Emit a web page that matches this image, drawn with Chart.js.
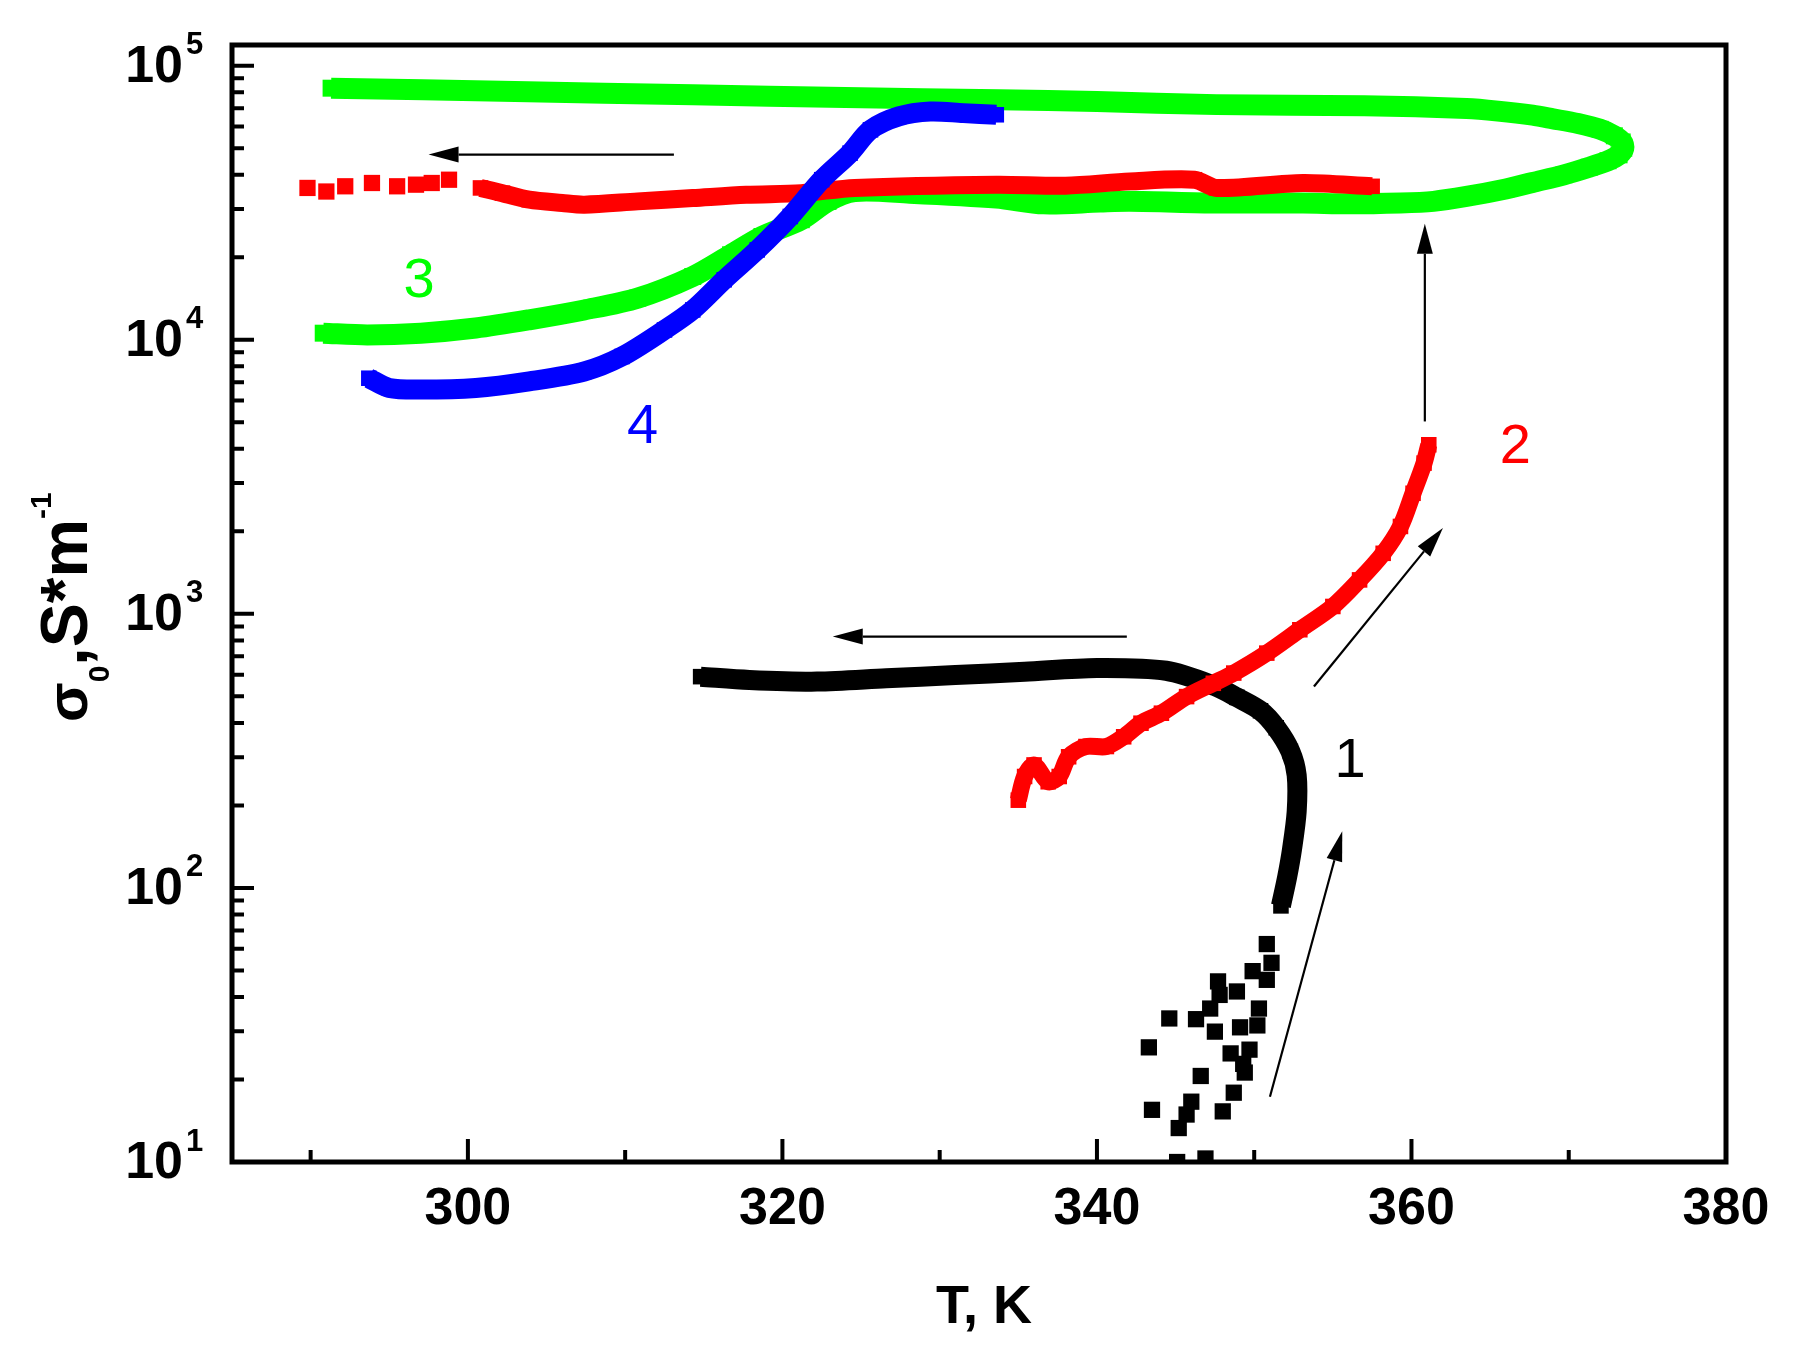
<!DOCTYPE html>
<html>
<head>
<meta charset="utf-8">
<title>sigma0 vs T</title>
<script src="https://cdn.jsdelivr.net/npm/chart.js@4.4.1/dist/chart.umd.min.js"></script>
<style>
  html, body { margin: 0; padding: 0; background: #fff; }
  canvas { display: block; }
</style>
</head>
<body>
<canvas id="chart" width="1798" height="1358"></canvas>
<script>
// axis ticks
const tempMajorTicks = [300, 320, 340, 360, 380];
const tempMinorTicks = [290, 310, 330, 350, 370];
const sigmaDecades = [1, 2, 3, 4, 5];

// curve 1 (black): scattered start, then continuous curve
const s1ScatterT = [350.8, 351.1, 349.9, 350.8, 347.7, 348.9, 347.8, 347.2, 350.3, 344.6, 346.3, 347.5, 349.1, 350.2,
                    343.3, 348.5, 349.7, 349.3, 346.6, 349.4, 348.7, 343.5, 346.0, 345.7, 348.0, 345.2, 346.9, 345.1];
const s1ScatterSigma = [62.4, 53.3, 49.7, 46.2, 45.6, 41.9, 40.7, 36.3, 36.3, 33.4, 33.2, 29.9, 31.0, 31.5,
                        26.2, 24.9, 25.7, 22.8, 20.6, 21.2, 17.9, 15.5, 16.6, 14.9, 15.3, 13.3, 10.3, 10.0];
const s1CurveT = [351.7, 352.1, 352.4, 352.7, 352.7, 352.3, 351.4, 350.4, 348.9, 347.5, 344.4, 340.0, 335.4, 331.0, 326.6, 322.2, 317.9, 314.8];
const s1CurveSigma = [86, 110, 138, 190, 258, 315, 384, 443, 496, 545, 620, 635, 615, 598, 582, 566, 574, 590];

// curve 2 (red): rise, jump, then cooling branch and its scattered tail
const s2RiseT = [335.0, 335.4, 336.0, 336.9, 337.6, 338.2, 339.3, 340.6, 341.7, 342.8, 344.1, 345.7, 347.4, 348.7,
                 350.8, 352.9, 355.0, 356.7, 358.2, 359.3, 360.1, 360.8, 361.1];
const s2RiseSigma = [209, 255, 281, 244, 255, 301, 328, 328, 356, 399, 434, 499, 558, 608,
                     719, 875, 1064, 1330, 1663, 2084, 2754, 3548, 4140];
const s2TopT = [357.5, 353.1, 347.6, 346.2, 342.1, 338.0, 333.6, 324.6, 321.2, 317.7, 314.3, 310.8, 307.4, 306.0, 303.9, 302.2, 300.8];
const s2TopSigma = [36300, 37330, 35810, 38370, 37840, 36500, 36810, 35810, 34280, 33810, 32890, 31990, 31110, 31550, 32430, 34280, 35810];
const s2TailT = [289.8, 291.0, 292.2, 293.9, 295.5, 296.7, 297.7, 298.8];
const s2TailSigma = [35810, 34750, 36310, 37330, 36310, 36810, 37330, 38370];

// curve 3 (green): lower branch to the right, loop, upper branch back
const s3T = [290.8, 293.6, 297.0, 300.5, 303.9, 307.4, 310.8, 314.3, 316.7, 318.7, 321.2, 322.9, 324.6, 328.1,
             333.6, 336.6, 340.2, 342.1, 347.6, 353.1, 356.0, 359.3, 361.4, 363.5, 366.0, 367.7, 369.7, 371.3,
             372.5, 373.2, 373.5, 373.4, 372.9, 372.0, 370.6, 369.0, 367.7, 365.5, 363.5, 357.0, 347.6, 340.0,
             333.8, 324.0, 314.3, 303.0, 291.3];
const s3Sigma = [10570, 10420, 10570, 11040, 11830, 12850, 14190, 17020, 20420, 23820, 27420, 31990, 34750, 34280,
                 32890, 31330, 31800, 31990, 31550, 31550, 31330, 31550, 32000, 33340, 35500, 37500, 40000, 42600,
                 45000, 47300, 50000, 52700, 55500, 58600, 61500, 64000, 66000, 68300, 69800, 71500, 72110, 74000,
                 75160, 76500, 78340, 80500, 82790];

// curve 4 (blue)
const s4T = [293.7, 295.0, 297.0, 300.5, 303.9, 307.4, 309.8, 312.5, 314.3, 316.3, 318.4, 320.5, 322.5, 324.3,
             325.6, 327.4, 329.4, 331.5, 333.6];
const s4Sigma = [7240, 6670, 6580, 6670, 7050, 7660, 8690, 10860, 12850, 16560, 21280, 28180, 38370, 47970,
                 58340, 65310, 68080, 67140, 66220];

// arrows (tail -> head)
const arrowFromT = [313.1, 341.9, 360.85, 353.8, 351.0];
const arrowFromSigma = [47400, 826, 5035, 543, 17.3];
const arrowToT = [297.5, 323.2, 360.85, 362.0, 355.6];
const arrowToSigma = [47400, 826, 26490, 2056, 161];

// curve numbers
const curveLabels = ['1', '2', '3', '4'];
const curveLabelT = [356.1, 366.6, 296.9, 311.1];
const curveLabelSigma = [289, 4036, 16330, 4764];

const FONT = '"Liberation Sans", Arial, Helvetica, sans-serif';
const labelColors = { '1': '#000000', '2': '#ff0000', '3': '#00ff00', '4': '#0000ff' };

function pts(xs, ys) {
    return xs.map((x, i) => ({ x: x, y: ys[i] }));
}

function drawArrow(ctx, x1, y1, x2, y2) {
    const ang = Math.atan2(y2 - y1, x2 - x1);
    const headLen = 30, headHalf = 8;
    const bx = x2 - headLen * Math.cos(ang);
    const by = y2 - headLen * Math.sin(ang);
    ctx.beginPath();
    ctx.moveTo(x1, y1);
    ctx.lineTo(bx, by);
    ctx.stroke();
    ctx.beginPath();
    ctx.moveTo(x2, y2);
    ctx.lineTo(bx + headHalf * Math.sin(ang), by - headHalf * Math.cos(ang));
    ctx.lineTo(bx - headHalf * Math.sin(ang), by + headHalf * Math.cos(ang));
    ctx.closePath();
    ctx.fill();
}

const decorPlugin = {
    id: 'decor',
    afterDatasetsDraw(chart) {
        const ctx = chart.ctx;
        const xs = chart.scales.x, ys = chart.scales.y;
        const a = chart.chartArea;
        ctx.save();

        // arrows
        ctx.strokeStyle = '#000';
        ctx.fillStyle = '#000';
        ctx.lineWidth = 2.2;
        arrowFromT.forEach((t, i) => {
            drawArrow(ctx,
                xs.getPixelForValue(t), ys.getPixelForValue(arrowFromSigma[i]),
                xs.getPixelForValue(arrowToT[i]), ys.getPixelForValue(arrowToSigma[i]));
        });

        // curve numbers
        ctx.font = '56px ' + FONT;
        ctx.textAlign = 'center';
        ctx.textBaseline = 'middle';
        curveLabels.forEach((txt, i) => {
            ctx.fillStyle = labelColors[txt];
            ctx.fillText(txt, xs.getPixelForValue(curveLabelT[i]), ys.getPixelForValue(curveLabelSigma[i]));
        });

        // frame
        ctx.strokeStyle = '#000';
        ctx.lineWidth = 5;
        ctx.strokeRect(a.left, a.top, a.right - a.left, a.bottom - a.top);

        // x ticks (inward)
        ctx.lineWidth = 4;
        ctx.beginPath();
        tempMajorTicks.forEach(t => {
            const px = xs.getPixelForValue(t);
            ctx.moveTo(px, a.bottom);
            ctx.lineTo(px, a.bottom - 23);
        });
        tempMinorTicks.forEach(t => {
            const px = xs.getPixelForValue(t);
            ctx.moveTo(px, a.bottom);
            ctx.lineTo(px, a.bottom - 12);
        });
        ctx.stroke();

        // y ticks (inward), log minors
        ctx.beginPath();
        sigmaDecades.forEach(d => {
            for (let m = 1; m <= 9; m++) {
                const v = m * Math.pow(10, d);
                if (v > ys.max) break;
                const py = ys.getPixelForValue(v);
                ctx.moveTo(a.left, py);
                ctx.lineTo(a.left + (m === 1 ? 22 : 12), py);
            }
        });
        ctx.stroke();

        // x tick labels
        ctx.fillStyle = '#000';
        ctx.font = 'bold 52px ' + FONT;
        ctx.textAlign = 'center';
        ctx.textBaseline = 'middle';
        tempMajorTicks.forEach(t => {
            ctx.fillText(String(t), xs.getPixelForValue(t), a.bottom + 48);
        });

        // y tick labels 10^n
        sigmaDecades.forEach(d => {
            const py = ys.getPixelForValue(Math.pow(10, d));
            ctx.font = 'bold 52px ' + FONT;
            ctx.textAlign = 'right';
            ctx.textBaseline = 'middle';
            ctx.fillText('10', 183, py + 2);
            ctx.font = 'bold 31px ' + FONT;
            ctx.textAlign = 'left';
            ctx.fillText(String(d), 186, py - 20);
        });

        // x title
        ctx.font = 'bold 54px ' + FONT;
        ctx.textAlign = 'center';
        ctx.textBaseline = 'middle';
        ctx.fillText('T, K', (a.left + a.right) / 2 + 5, 1308);

        // y title: sigma_0,S*m^-1 rotated
        ctx.translate(87, 722);
        ctx.rotate(-Math.PI / 2);
        ctx.textAlign = 'left';
        ctx.textBaseline = 'alphabetic';
        let x = 0;
        const parts = [
            { t: '\u03c3', f: 'bold 58px ', dy: 0 },
            { t: '0', f: 'bold 30px ', dy: 22 },
            { t: ',', f: 'bold 66px ', dy: 0 },
            { t: 'S*m', f: 'bold 66px ', dy: 0 },
            { t: '-1', f: 'bold 30px ', dy: -36 }
        ];
        parts.forEach(p => {
            ctx.font = p.f + FONT;
            ctx.fillText(p.t, x, p.dy);
            x += ctx.measureText(p.t).width;
        });
        ctx.restore();
    }
};

const lineDs = (data, color, width, radius, order) => ({
    data: data,
    showLine: true,
    borderColor: color,
    backgroundColor: color,
    borderWidth: width,
    pointStyle: 'rect',
    pointRadius: radius,
    pointBorderWidth: 0,
    borderJoinStyle: 'round',
    tension: 0.3,
    order: order
});

const pointDs = (data, color, radius, order) => ({
    data: data,
    showLine: false,
    borderColor: color,
    backgroundColor: color,
    pointStyle: 'rect',
    pointRadius: radius,
    pointBorderWidth: 0,
    order: order
});

new Chart(document.getElementById('chart'), {
    type: 'scatter',
    data: {
        datasets: [
            lineDs(pts(s4T, s4Sigma), '#0000ff', 20, 11, 1),
            lineDs(pts(s2RiseT, s2RiseSigma), '#ff0000', 17, 11, 2),
            lineDs(pts(s2TopT, s2TopSigma), '#ff0000', 18, 11, 2),
            pointDs(pts(s2TailT, s2TailSigma), '#ff0000', 11.5, 2),
            lineDs(pts(s3T, s3Sigma), '#00ff00', 21, 12, 3),
            lineDs(pts(s1CurveT, s1CurveSigma), '#000000', 20, 11, 4),
            pointDs(pts(s1ScatterT, s1ScatterSigma), '#000000', 11.5, 4)
        ]
    },
    options: {
        responsive: false,
        devicePixelRatio: 1,
        animation: false,
        layout: { padding: { left: 232, top: 45, right: 72, bottom: 196 } },
        plugins: { legend: { display: false }, tooltip: { enabled: false } },
        scales: {
            x: { type: 'linear', min: 285, max: 380, display: false },
            y: { type: 'logarithmic', min: 10, max: 119000, display: false }
        }
    },
    plugins: [decorPlugin]
});
</script>
</body>
</html>
